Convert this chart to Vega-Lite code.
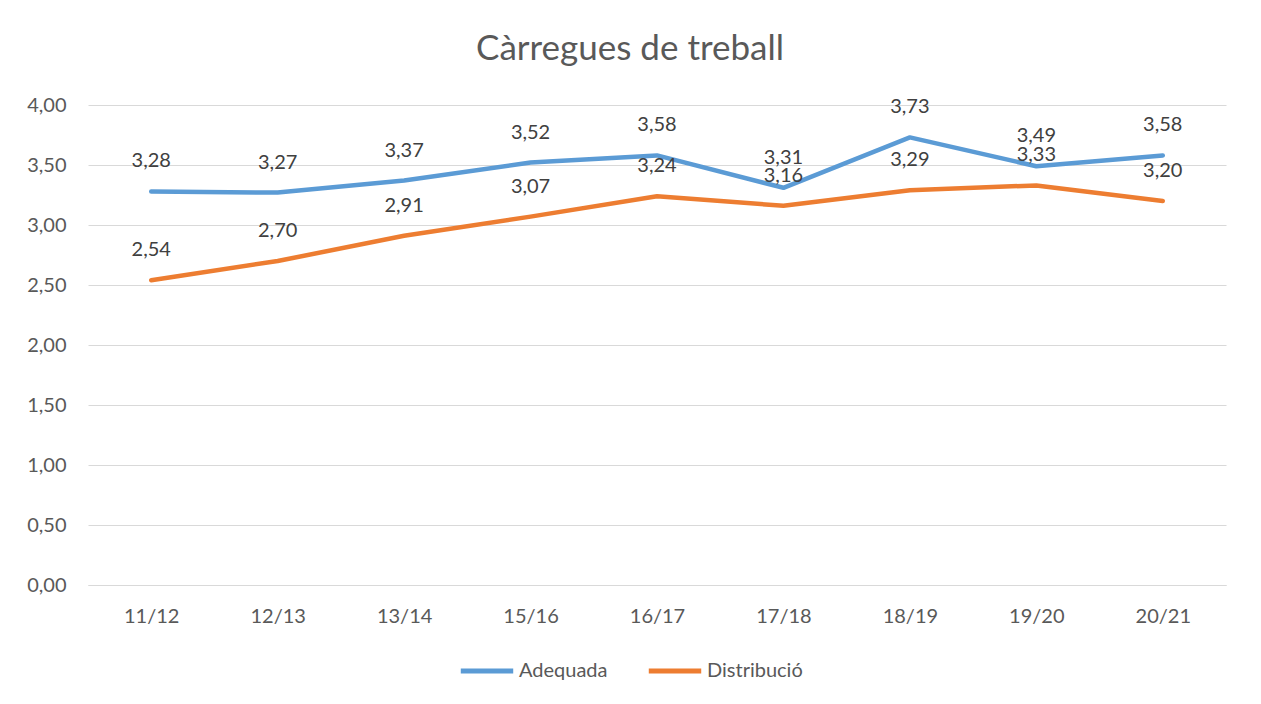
{
  "$schema": "https://vega.github.io/schema/vega-lite/v6.json",
  "width": 1138,
  "height": 480,
  "autosize": {"type": "none"},
  "padding": {"left": 88, "top": 105, "right": 35, "bottom": 119},
  "background": "white",
  "config": {
    "locale": {"number": {"decimal": ",", "thousands": ".", "grouping": [3], "currency": ["", " €"]}},
    "font": "Lato",
    "view": {"stroke": null}
  },
  "title": {"text": "Càrregues de treball", "fontSize": 35, "fontWeight": "normal", "color": "#595959", "font": "Lato", "offset": 28, "dx": -27, "anchor": "middle"},
  "data": {"values": [
    {"year": "11/12", "serie": "Adequada", "v": 3.28},
    {"year": "12/13", "serie": "Adequada", "v": 3.27},
    {"year": "13/14", "serie": "Adequada", "v": 3.37},
    {"year": "15/16", "serie": "Adequada", "v": 3.52},
    {"year": "16/17", "serie": "Adequada", "v": 3.58},
    {"year": "17/18", "serie": "Adequada", "v": 3.31},
    {"year": "18/19", "serie": "Adequada", "v": 3.73},
    {"year": "19/20", "serie": "Adequada", "v": 3.49},
    {"year": "20/21", "serie": "Adequada", "v": 3.58},
    {"year": "11/12", "serie": "Distribució", "v": 2.54},
    {"year": "12/13", "serie": "Distribució", "v": 2.70},
    {"year": "13/14", "serie": "Distribució", "v": 2.91},
    {"year": "15/16", "serie": "Distribució", "v": 3.07},
    {"year": "16/17", "serie": "Distribució", "v": 3.24},
    {"year": "17/18", "serie": "Distribució", "v": 3.16},
    {"year": "18/19", "serie": "Distribució", "v": 3.29},
    {"year": "19/20", "serie": "Distribució", "v": 3.33},
    {"year": "20/21", "serie": "Distribució", "v": 3.20}
  ]},
  "encoding": {
    "x": {"field": "year", "type": "ordinal", "sort": null,
      "axis": {"title": null, "labelAngle": 0, "ticks": false, "domainColor": "#D9D9D9", "labelFontSize": 20, "labelColor": "#595959", "labelPadding": 21}},
    "y": {"field": "v", "type": "quantitative", "scale": {"domain": [0, 4], "nice": false},
      "axis": {"title": null, "values": [0, 0.5, 1, 1.5, 2, 2.5, 3, 3.5, 4], "format": ".2f", "ticks": false, "domain": false, "gridColor": "#D9D9D9", "labelFontSize": 20, "labelColor": "#595959", "labelPadding": 22}}
  },
  "layer": [
    {
      "mark": {"type": "line", "strokeWidth": 4.5, "strokeCap": "round", "strokeJoin": "round"},
      "encoding": {
        "color": {"field": "serie", "type": "nominal",
          "scale": {"domain": ["Adequada", "Distribució"], "range": ["#5B9BD5", "#ED7D31"]},
          "legend": {"title": null, "orient": "none", "legendX": 370, "legendY": 537, "direction": "horizontal",
            "symbolType": "stroke", "symbolSize": 2750, "symbolStrokeWidth": 5, "labelFontSize": 20, "labelColor": "#595959", "labelOffset": 3, "columnPadding": 30}}
      }
    },
    {
      "mark": {"type": "text", "dy": -30, "fontSize": 20, "color": "#404040"},
      "encoding": {"text": {"field": "v", "type": "quantitative", "format": ".2f"}}
    }
  ]
}
